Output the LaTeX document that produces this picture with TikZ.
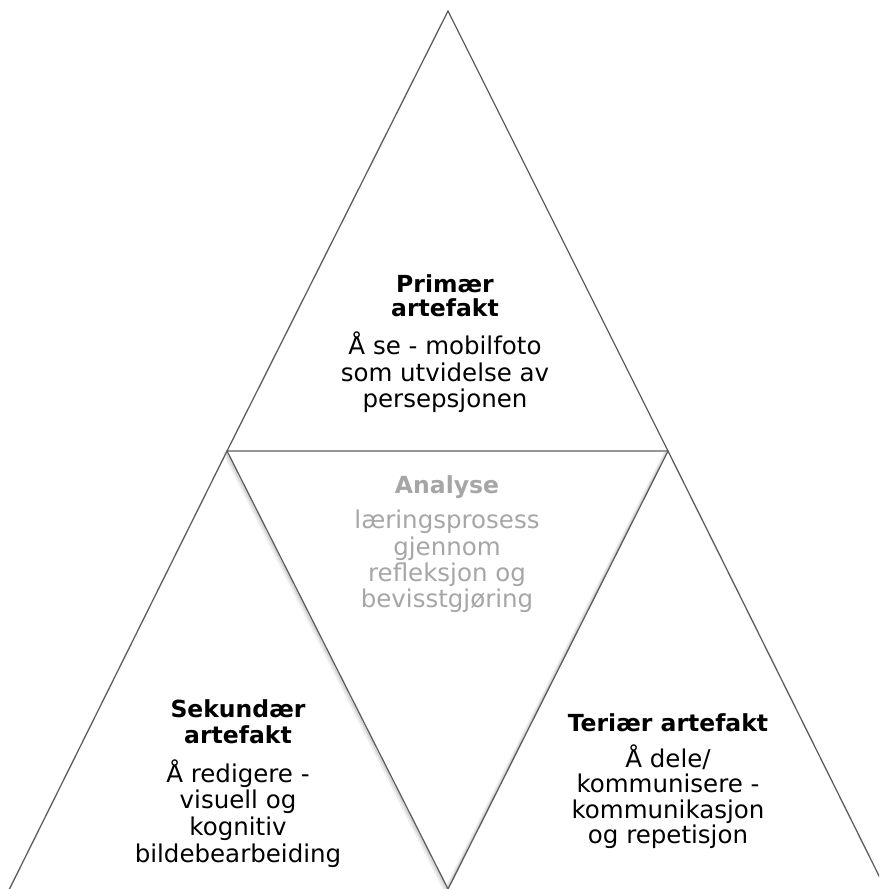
\documentclass[tikz,border=0pt]{standalone}
\usepackage{fontspec}
\setmainfont{DejaVu Sans}
\definecolor{edgegray}{HTML}{5E5E5E}
\definecolor{softgray}{HTML}{A6A6A6}
\begin{document}
\begin{tikzpicture}[x=1pt,y=-1pt,
  edge/.style={draw=edgegray, line width=1.3pt, line join=miter},
  shadeA/.style={draw=black!7, line width=3.5pt},
  shadeB/.style={draw=black!16, line width=1.6pt},
  head/.style={font=\fontsize{23.5}{24}\selectfont\bfseries, anchor=base, inner sep=0pt},
  body/.style={font=\fontsize{24.5}{27}\selectfont, anchor=base, inner sep=0pt},
  pale/.style={text=softgray}]
\useasboundingbox (0,0) rectangle (879,889);
\clip (0,0) rectangle (879,889);
\fill[white] (0,0) rectangle (879,889);
% vertices
\coordinate (A) at (448,11);
\coordinate (B) at (227,451);
\coordinate (C) at (668,451);
\coordinate (D) at (448,889);
\coordinate (L) at (4,900);
\coordinate (R) at (891,900);
% soft shadows of the inverted triangle
\draw[shadeA] ([shift={(-2.5,1.5)}]B) -- ([shift={(-2.5,1.5)}]D);
\draw[shadeA] ([shift={(-2.5,1.5)}]C) -- ([shift={(-2.5,1.5)}]D);
\draw[shadeB] ([shift={(-1.5,0.8)}]B) -- ([shift={(-1.5,0.8)}]D);
\draw[shadeB] ([shift={(-1.5,0.8)}]C) -- ([shift={(-1.5,0.8)}]D);
% top triangle
\draw[edge] (B) -- (A) -- (C) -- cycle;
% left triangle
\draw[edge] (L) -- (B) -- (D);
% right triangle
\draw[edge] (D) -- (C) -- (R);
% top text
\node[head] (p1) at (445,292) {Primær};
\node[head] (p2) at (445,316) {artefakt};
\node[body] (p3) at (445,354) {Å se - mobilfoto};
\node[body] (p4) at (445,381) {som utvidelse av};
\node[body] (p5) at (445,407) {persepsjonen};
% middle text
\node[head,pale] (a1) at (447,493) {Analyse};
\node[body,pale] (a2) at (447,528) {læringsprosess};
\node[body,pale] (a3) at (447,555) {gjennom};
\node[body,pale] (a4) at (447,581) {refleksjon og};
\node[body,pale] (a5) at (447,607) {bevisstgjøring};
% left text
\node[head] (s1) at (238,717) {Sekundær};
\node[head] (s2) at (238,743) {artefakt};
\node[body] (s3) at (238,782) {Å redigere -};
\node[body] (s4) at (238,808) {visuell og};
\node[body] (s5) at (238,835) {kognitiv};
\node[body] (s6) at (238,862) {bildebearbeiding};
% right text
\node[head] (t1) at (668,731) {Teriær artefakt};
\node[body] (t2) at (668,767) {Å dele/};
\node[body] (t3) at (668,792) {kommunisere -};
\node[body] (t4) at (668,818) {kommunikasjon};
\node[body] (t5) at (668,843) {og repetisjon};
\end{tikzpicture}
\end{document}
